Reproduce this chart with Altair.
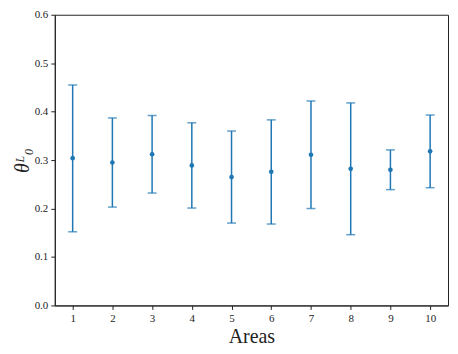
import altair as alt
import pandas as pd

areas = [1, 2, 3, 4, 5, 6, 7, 8, 9, 10]
means = [0.304, 0.295, 0.312, 0.289, 0.265, 0.276, 0.311, 0.282, 0.280, 0.318]
uppers = [0.455, 0.387, 0.392, 0.377, 0.360, 0.383, 0.422, 0.418, 0.321, 0.393]
lowers = [0.152, 0.203, 0.232, 0.201, 0.170, 0.168, 0.200, 0.146, 0.239, 0.243]
y_ticks = [0.0, 0.1, 0.2, 0.3, 0.4, 0.5, 0.6]

df = pd.DataFrame({"area": areas, "mean": means, "upper": uppers, "lower": lowers})

COLOR = "#1f77b4"
FONT = "Liberation Serif"

x = alt.X("area:Q", scale=alt.Scale(domain=[0.55, 10.45], nice=False, zero=False),
          axis=alt.Axis(values=areas, title="Areas", format="d", grid=False,
                        labelFont=FONT, labelFontSize=11, labelColor="#222",
                        titleFont=FONT, titleFontSize=20, titleFontWeight="normal",
                        titleColor="#222", tickColor="#222", domainColor="#222",
                        tickSize=4, labelPadding=3, titlePadding=3))
y_axis = alt.Axis(values=y_ticks, title="θᴸ₀", format=".1f", grid=False,
                  labelFont=FONT, labelFontSize=11, labelColor="#222",
                  titleFont=FONT, titleFontSize=20, titleFontStyle="italic",
                  titleFontWeight="normal", titleColor="#222",
                  tickColor="#222", domainColor="#222", tickSize=4,
                  labelPadding=3, titlePadding=2)
yscale = alt.Scale(domain=[0, 0.6], nice=False)

base = alt.Chart(df)
rules = base.mark_rule(color=COLOR, strokeWidth=1.5).encode(
    x=x, y=alt.Y("lower:Q", scale=yscale, axis=y_axis), y2="upper:Q")
cap_top = base.mark_tick(color=COLOR, orient="horizontal", size=9, thickness=1.5).encode(
    x="area:Q", y="upper:Q")
cap_bot = base.mark_tick(color=COLOR, orient="horizontal", size=9, thickness=1.5).encode(
    x="area:Q", y="lower:Q")
pts = base.mark_circle(color=COLOR, size=22, opacity=1).encode(x="area:Q", y="mean:Q")

chart = alt.layer(rules, cap_top, cap_bot, pts).properties(
    width=395, height=292,
    autosize=alt.AutoSizeParams(type="none"),
    padding={"left": 47, "top": 6, "right": 2, "bottom": 44},
).configure_view(stroke="#222", strokeWidth=1)

chart.save("out.html", embed_options={"renderer": "svg", "actions": False})
